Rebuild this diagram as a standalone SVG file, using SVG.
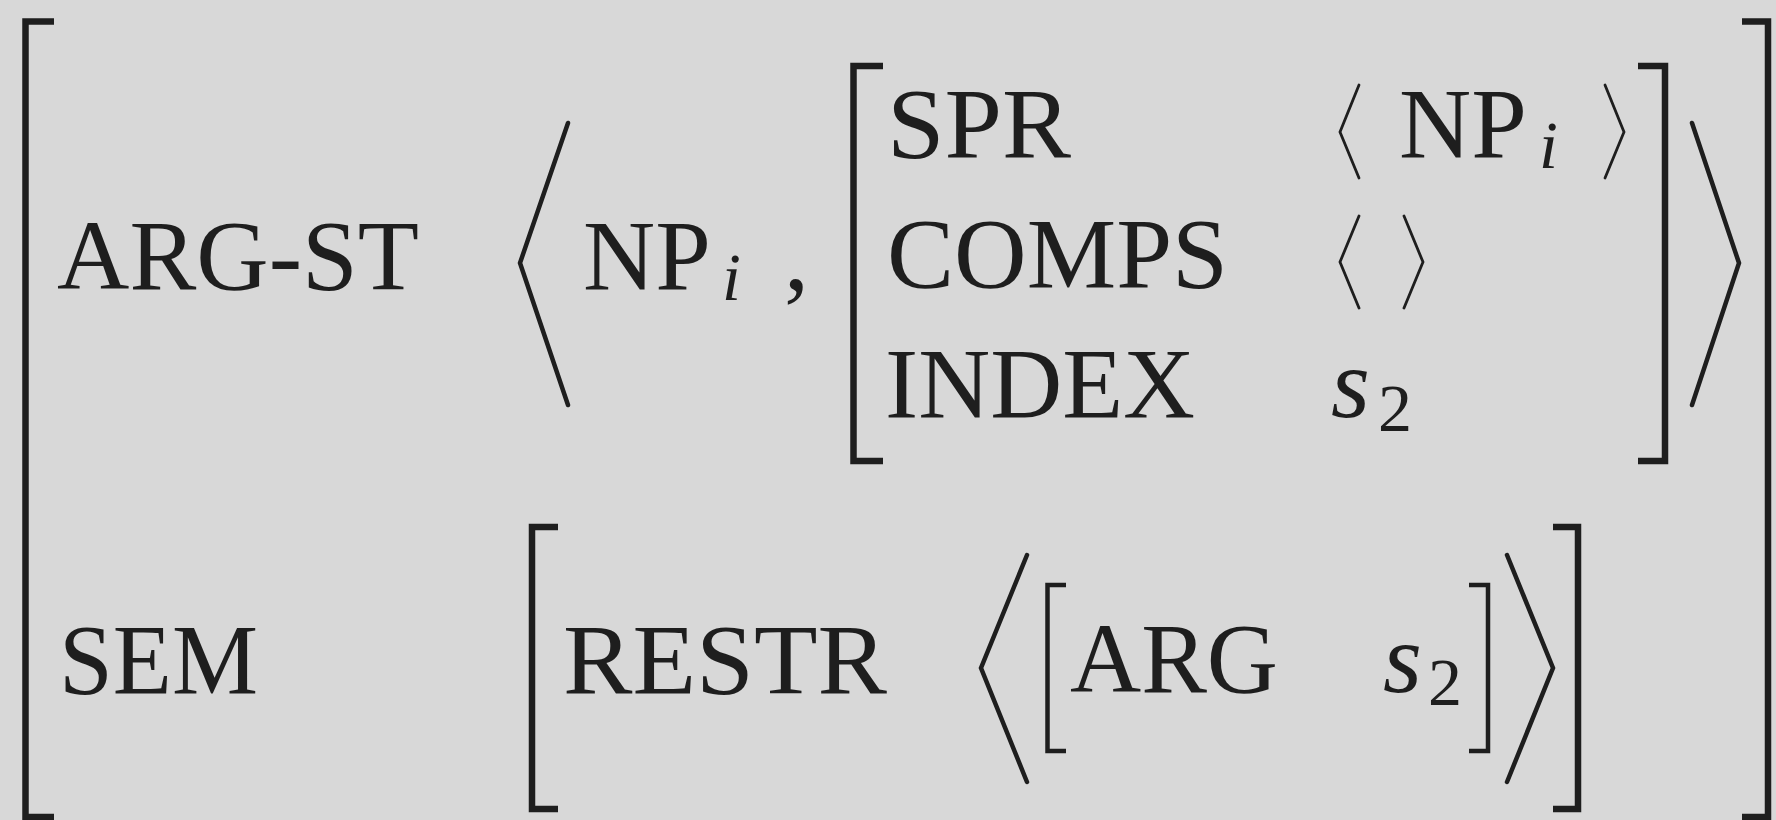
<svg xmlns="http://www.w3.org/2000/svg" width="1776" height="820" viewBox="0 0 1776 820">
<style>
text{font-family:'Liberation Serif','Times New Roman',serif;font-size:100px;fill:#1e1e1e}
.it{font-style:italic}
.sub{font-size:68px}
.br{fill:none;stroke:#1e1e1e;stroke-width:6.5;stroke-linecap:butt;stroke-linejoin:miter}
.br2{fill:none;stroke:#1e1e1e;stroke-width:4.5;stroke-linecap:butt;stroke-linejoin:miter}
.ang{fill:none;stroke:#1e1e1e;stroke-width:4.5;stroke-linecap:round;stroke-linejoin:miter}
.angs{fill:none;stroke:#1e1e1e;stroke-width:2.8;stroke-linecap:round;stroke-linejoin:miter}
</style>
<rect width="1776" height="820" fill="#d8d8d8"/>
<g id="outer">
<path class="br" d="M54,21.5 H25.5 V817 H54"/>
<path class="br" d="M1742,21.5 H1768 V817 H1742"/>
</g>
<g id="argst">
<text x="57" y="289" textLength="362" lengthAdjust="spacingAndGlyphs">ARG-ST</text>
<path class="ang" d="M568,123 L520,263 L568,405"/>
<text x="583" y="289">NP</text>
<text class="it sub" x="722" y="300">i</text>
<text x="784" y="289">,</text>
<g id="inner-avm">
<path class="br" d="M883,66 H853.5 V461 H883"/>
<path class="br" d="M1638,66 H1665 V461 H1638"/>
<text x="887" y="157" textLength="184" lengthAdjust="spacingAndGlyphs">SPR</text>
<path class="angs" d="M1359,85 L1340,132 L1359,178"/>
<text x="1399" y="157">NP</text>
<text class="it sub" x="1539" y="168">i</text>
<path class="angs" d="M1605,85 L1624,132 L1605,178"/>
<text x="887" y="287" textLength="341" lengthAdjust="spacingAndGlyphs">COMPS</text>
<path class="angs" d="M1359,216 L1340,262 L1359,308"/>
<path class="angs" d="M1404,216 L1423,262 L1404,308"/>
<text x="885" y="417" textLength="310" lengthAdjust="spacingAndGlyphs">INDEX</text>
<text class="it" x="1331" y="417">s</text>
<text class="sub" x="1378" y="431">2</text>
</g>
<path class="ang" d="M1692,123 L1739,263 L1692,405"/>
</g>
<g id="sem">
<text x="59" y="693" textLength="199" lengthAdjust="spacingAndGlyphs">SEM</text>
<path class="br" d="M558,527 H532 V809 H558"/>
<path class="br" d="M1553,527 H1578 V809 H1553"/>
<text x="563" y="693" textLength="324" lengthAdjust="spacingAndGlyphs">RESTR</text>
<path class="ang" d="M1027,555 L981,668 L1027,782"/>
<g id="arg-avm">
<path class="br2" d="M1066,585 H1047.5 V751 H1066"/>
<path class="br2" d="M1469,585 H1488 V751 H1469"/>
<text x="1070" y="692" textLength="208" lengthAdjust="spacingAndGlyphs">ARG</text>
<text class="it" x="1383" y="692">s</text>
<text class="sub" x="1428" y="705">2</text>
</g>
<path class="ang" d="M1507,555 L1553,668 L1507,782"/>
</g>
</svg>
